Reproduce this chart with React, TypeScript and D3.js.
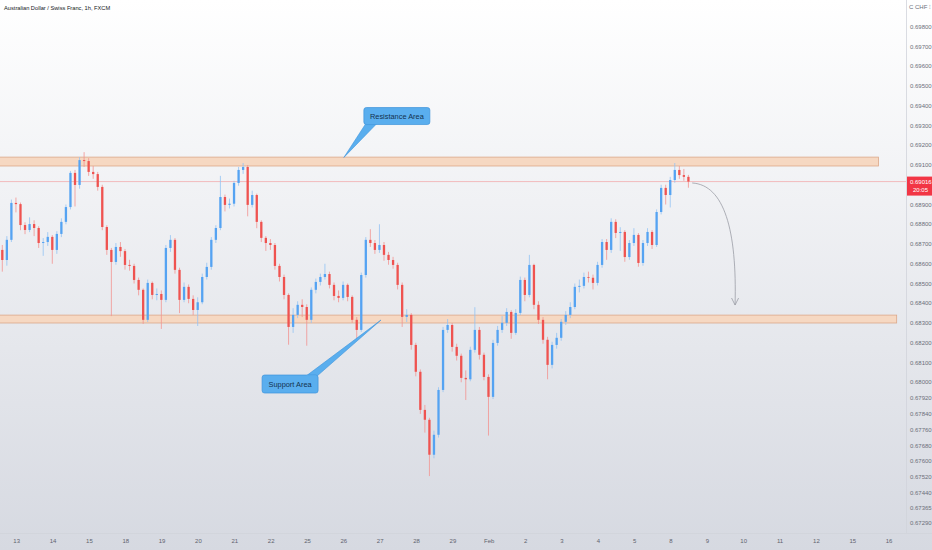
import { useEffect, useRef } from 'react';
import * as d3 from 'd3';

// prices are stored as pips above BASE (0.68000), one bar = 3 trading hours
const BASE = 0.68;
const PIP = 0.0001;
const START_HOUR = -11; // hours relative to Jan 13 00:00 (trading time)
const BAR_HOURS = 3;

const firstOpen = 67.0;
const closes = [
    61.9, 72.1, 90.8, 90.2, 79.6, 77.1, 80.1, 78.1, 70.5, 71.0,
    73.6, 67.0, 75.1, 81.2, 88.7, 106.0, 99.9, 112.5, 112.0, 106.5,
    105.4, 98.9, 78.6, 67.0, 60.9, 68.5, 66.4, 59.4, 58.9, 51.8,
    46.8, 31.6, 50.3, 44.2, 44.7, 41.7, 68.0, 72.1, 56.9, 41.7,
    48.3, 42.2, 36.6, 40.5, 53.3, 58.4, 72.1, 78.1, 93.8, 89.8,
    90.4, 100.9, 107.5, 109.0, 89.8, 94.8, 81.2, 73.1, 70.5, 69.5,
    58.9, 53.3, 44.2, 28.0, 34.1, 39.2, 38.1, 31.6, 46.8, 50.8,
    53.3, 54.8, 49.3, 43.7, 42.7, 49.3, 43.2, 31.6, 26.5, 54.3,
    72.1, 70.5, 67.0, 69.5, 64.5, 61.9, 59.4, 49.3, 33.1, 34.1,
    18.9, 5.3, -14.0, -19.0, -36.7, -26.6, -3.9, 26.5, 29.0, 17.9,
    13.4, 2.2, 1.5, 16.4, 26.5, 13.9, 2.7, -7.4, 19.9, 26.5,
    30.1, 35.6, 25.0, 35.1, 51.8, 44.2, 59.4, 39.2, 31.6, 21.5,
    8.8, 18.9, 22.5, 30.6, 34.1, 38.1, 48.3, 48.8, 53.3, 52.9,
    50.3, 59.4, 71.0, 67.0, 81.2, 75.6, 76.1, 63.4, 70.5, 74.6,
    60.4, 70.5, 76.1, 69.5, 86.2, 98.4, 94.8, 102.4, 107.5, 104.9,
    104.0, 101.6,
];
const highs = [
    69.5, 74, 92.5, 93.5, 91, 81, 83.5, 82, 79, 73,
    76, 74.5, 76.5, 83, 90, 107, 107.5, 114, 116.5, 113.5,
    109.5, 106.5, 100, 79.5, 68, 70.5, 71, 67.5, 62, 60,
    53, 47.5, 52, 51, 47.5, 46.5, 69.5, 74.5, 73, 58,
    50.5, 49.5, 44, 43, 55, 60.5, 73.5, 79.5, 104.5, 95,
    93, 102, 109, 111, 110, 97, 95.5, 82, 74, 72.5,
    70.5, 60, 54.5, 45, 37.5, 41, 42, 39.5, 48, 52.5,
    55, 60, 56, 50.5, 46.5, 51, 50, 44, 33, 55.5,
    73.5, 77.5, 72, 80, 71, 66, 63.5, 60.5, 50.5, 37,
    35, 20, 6.5, -11.5, -18, -24.5, -2.5, 28, 32, 30,
    19.5, 14.5, 6, 18, 38, 28, 15, 4, 21.5, 28.5,
    33.5, 37.5, 36.5, 37, 53.5, 53, 64.5, 60, 41, 33,
    23, 20.5, 25, 32, 36, 40.5, 50, 52, 55.5, 56,
    54.5, 61, 72.5, 72.5, 83, 82.5, 78.5, 77, 72, 78,
    75.5, 72, 78, 77, 87.5, 100, 100, 104, 111, 109.5,
    108, 105,
];
const lows = [
    56, 59, 71, 86, 77, 75, 76, 74, 68, 64,
    69, 60, 65, 73.5, 80, 87.5, 89, 98, 109, 104.5,
    103, 97, 77, 64.5, 33.5, 59.5, 63.5, 57, 56.5, 50,
    44, 29.5, 30.5, 42, 41.5, 27, 40.5, 66, 55, 35,
    40.5, 40, 34, 28.5, 39.5, 52, 57, 70.5, 77, 86.5,
    88, 89, 99.5, 105.5, 84, 88.5, 78, 71, 66.5, 67,
    57, 51, 42, 19, 25, 32.5, 33, 18.5, 30, 45,
    49, 52, 47.5, 41.5, 40.5, 41.5, 41, 30, 21.5, 25.5,
    53, 68.5, 65, 65.5, 61.5, 59.5, 57.5, 47, 28, 30.5,
    16.5, 3, -16, -25.5, -47.5, -38.5, -28, -5, 25, 15.5,
    11, 0, -9, 0.5, 15, 11.5, 1, -27, -8.5, 18.5,
    25, 28.5, 22, 24, 34, 41, 43, 37, 29.5, 19.5,
    1.5, 7, 17, 21, 29, 32.5, 37, 45.5, 47.5, 50.5,
    47, 49, 58, 62, 65.5, 73, 66.5, 61, 62, 69,
    58.5, 59, 69, 67.5, 68.5, 85, 90, 88.5, 101, 103,
    102, 98.5,
];

const priceTicks = [
    0.698, 0.697, 0.696, 0.695, 0.694, 0.693, 0.692, 0.691, 0.689, 0.688,
    0.687, 0.686, 0.685, 0.684, 0.683, 0.682, 0.681, 0.68, 0.6792, 0.6784,
    0.6776, 0.6768, 0.676, 0.6752, 0.6744, 0.67365, 0.6729,
];
const dayLabels = [
    '13', '14', '15', '18', '19', '20', '21', '22', '25', '26', '27', '28', '29',
    'Feb', '2', '3', '4', '5', '8', '9', '10', '11', '12', '15', '16',
];

const lastPrice = 0.69016;
const countdown = '20:05';
const resistanceZone = { low: 0.69095, high: 0.6914, endHour: 569 };
const supportZone = { low: 0.683, high: 0.6834, endHour: 581 };
const callouts = [
    { text: 'Resistance Area', hour: 251, price: 0.69348, w: 66, h: 17, tipHour: 216, tipPrice: 0.69138, baseDx: [-31, -20], baseSide: 'bottom' },
    { text: 'Support Area', hour: 180.5, price: 0.67991, w: 56, h: 18, tipHour: 240.5, tipPrice: 0.68315, baseDx: [16, 27], baseSide: 'top' },
];
const arrowFrom = { hour: 446, price: 0.69009 };
const arrowTo = { hour: 474.3, price: 0.68391 };

const W = 932;
const H = 550;
const plotW = 906;
const plotH = 533;
const upColor = '#55a3f2';
const downColor = '#ef5350';
const font = "'Liberation Sans', Arial, sans-serif";

const App: React.FC = () => {
    const svgRef = useRef<SVGSVGElement>(null);

    useEffect(() => {
        const root = d3.select(svgRef.current);
        root.selectAll('*').remove();

        const y = d3.scaleLinear().domain([0.691, 0.683]).range([165, 323]);
        const x = d3.scaleLinear().domain([0, 24]).range([16.7, 53.05]);

        const defs = root.append('defs');
        const grad = defs.append('linearGradient')
            .attr('id', 'bg').attr('x1', 0).attr('y1', 0).attr('x2', 0).attr('y2', 1);
        grad.append('stop').attr('offset', '0%').attr('stop-color', '#ffffff');
        grad.append('stop').attr('offset', '100%').attr('stop-color', '#d6d9e1');
        defs.append('clipPath').attr('id', 'plot')
            .append('rect').attr('width', plotW).attr('height', plotH);

        root.append('rect').attr('width', W).attr('height', H).attr('fill', 'url(#bg)');

        // axis separators
        root.append('line').attr('x1', plotW + 0.5).attr('x2', plotW + 0.5).attr('y1', 0).attr('y2', plotH)
            .attr('stroke', '#d0d3da').attr('stroke-width', 0.8);
        root.append('line').attr('x1', 0).attr('x2', W).attr('y1', plotH + 0.5).attr('y2', plotH + 0.5)
            .attr('stroke', '#d0d3da').attr('stroke-width', 0.8);

        const plot = root.append('g').attr('clip-path', 'url(#plot)');

        // zones
        [resistanceZone, supportZone].forEach((z) => {
            plot.append('rect')
                .attr('x', -2)
                .attr('y', y(z.high))
                .attr('width', x(z.endHour) + 2)
                .attr('height', y(z.low) - y(z.high))
                .attr('fill', '#f6d8c2')
                .attr('stroke', '#dca889')
                .attr('stroke-width', 0.8);
        });

        // last price line
        plot.append('line')
            .attr('x1', 0).attr('x2', plotW)
            .attr('y1', y(lastPrice)).attr('y2', y(lastPrice))
            .attr('stroke', '#f3a3a3').attr('stroke-width', 0.7);

        // candles
        const bars = closes.map((c, i) => ({
            o: i === 0 ? firstOpen : closes[i - 1],
            c,
            h: highs[i],
            l: lows[i],
            hour: START_HOUR + i * BAR_HOURS + BAR_HOURS / 2,
        }));
        const px = (p: number) => y(BASE + p * PIP);
        const bodyW = 2.3;

        const g = plot.append('g');
        g.selectAll('line.wick')
            .data(bars)
            .enter()
            .append('line')
            .attr('x1', (d) => x(d.hour)).attr('x2', (d) => x(d.hour))
            .attr('y1', (d) => px(d.h)).attr('y2', (d) => px(d.l))
            .attr('stroke', (d) => (d.c >= d.o ? '#93c3f4' : '#f29391'))
            .attr('stroke-width', 0.8);
        g.selectAll('rect.body')
            .data(bars)
            .enter()
            .append('rect')
            .attr('x', (d) => x(d.hour) - bodyW / 2)
            .attr('y', (d) => px(Math.max(d.o, d.c)))
            .attr('width', bodyW)
            .attr('height', (d) => Math.max(0.8, Math.abs(px(d.o) - px(d.c))))
            .attr('fill', (d) => (d.c >= d.o ? upColor : downColor));

        // curved projection arrow
        const ax0 = x(arrowFrom.hour), ay0 = y(arrowFrom.price);
        const ax1 = x(arrowTo.hour), ay1 = y(arrowTo.price);
        const path = d3.path();
        path.moveTo(ax0, ay0);
        path.bezierCurveTo(ax0 + 32, ay0 + 2, ax1 + 2, ay1 - 75, ax1, ay1);
        plot.append('path').attr('d', path.toString())
            .attr('fill', 'none').attr('stroke', '#9a9da6').attr('stroke-width', 0.8);
        plot.append('path')
            .attr('d', `M${ax1 - 3.5},${ay1 - 7}L${ax1},${ay1}L${ax1 + 3.5},${ay1 - 7}`)
            .attr('fill', 'none').attr('stroke', '#9a9da6').attr('stroke-width', 0.8);

        // callouts
        callouts.forEach((c) => {
            const cx = x(c.hour), cy = y(c.price);
            const left = cx - c.w / 2, top = cy - c.h / 2;
            const tx = x(c.tipHour), ty = y(c.tipPrice);
            const by = c.baseSide === 'bottom' ? top + c.h - 1 : top + 1;
            plot.append('path')
                .attr('d', `M${cx + c.baseDx[0]},${by}L${tx},${ty}L${cx + c.baseDx[1]},${by}Z`)
                .attr('fill', '#5aaeee').attr('stroke', '#3d93db').attr('stroke-width', 0.6);
            plot.append('rect')
                .attr('x', left).attr('y', top).attr('width', c.w).attr('height', c.h)
                .attr('rx', 2.5)
                .attr('fill', '#5aaeee').attr('stroke', '#3d93db').attr('stroke-width', 0.7);
            plot.append('path')
                .attr('d', `M${cx + c.baseDx[0] + 0.6},${by}L${cx + c.baseDx[1] - 0.6},${by}`)
                .attr('stroke', '#5aaeee').attr('stroke-width', 1.4);
            plot.append('text')
                .attr('x', cx).attr('y', cy + 2.6)
                .attr('text-anchor', 'middle')
                .attr('font-family', font).attr('font-size', 7.4)
                .attr('fill', '#13324f')
                .text(c.text);
        });

        // price axis
        const yAxis = root.append('g');
        yAxis.selectAll('text')
            .data(priceTicks)
            .enter()
            .append('text')
            .attr('x', 910)
            .attr('y', (d) => y(d) + 2.2)
            .attr('font-family', font).attr('font-size', 6)
            .attr('fill', '#6b6f7a')
            .text((d) => d.toFixed(5));

        // last price tag
        const ly = y(lastPrice);
        root.append('rect').attr('x', plotW + 1).attr('y', ly - 5).attr('width', W - plotW - 1).attr('height', 19)
            .attr('fill', '#f23645');
        root.append('text').attr('x', 910).attr('y', ly + 2.2)
            .attr('font-family', font).attr('font-size', 6).attr('fill', '#ffffff')
            .text(lastPrice.toFixed(5));
        root.append('text').attr('x', 913).attr('y', ly + 10.5)
            .attr('font-family', font).attr('font-size', 6).attr('fill', '#ffffff')
            .text(countdown);

        root.append('text').attr('x', 909).attr('y', 9)
            .attr('font-family', font).attr('font-size', 6).attr('fill', '#6b6f7a')
            .text('C CHF ⁝');

        // time axis
        const xAxis = root.append('g');
        xAxis.selectAll('text')
            .data(dayLabels)
            .enter()
            .append('text')
            .attr('x', (_d, i) => x(i * 24))
            .attr('y', 542.5)
            .attr('text-anchor', 'middle')
            .attr('font-family', font).attr('font-size', 6)
            .attr('fill', '#5f636e')
            .text((d) => d);

        // title
        root.append('text').attr('x', 4).attr('y', 9.5)
            .attr('font-family', font).attr('font-size', 5.7)
            .attr('fill', '#131722')
            .text('Australian Dollar / Swiss Franc, 1h, FXCM');
    }, []);

    return (
        <svg
            ref={svgRef}
            width={W}
            height={H}
            style={{ position: 'absolute', left: 0, top: 0, display: 'block' }}
        />
    );
};

export default App;
